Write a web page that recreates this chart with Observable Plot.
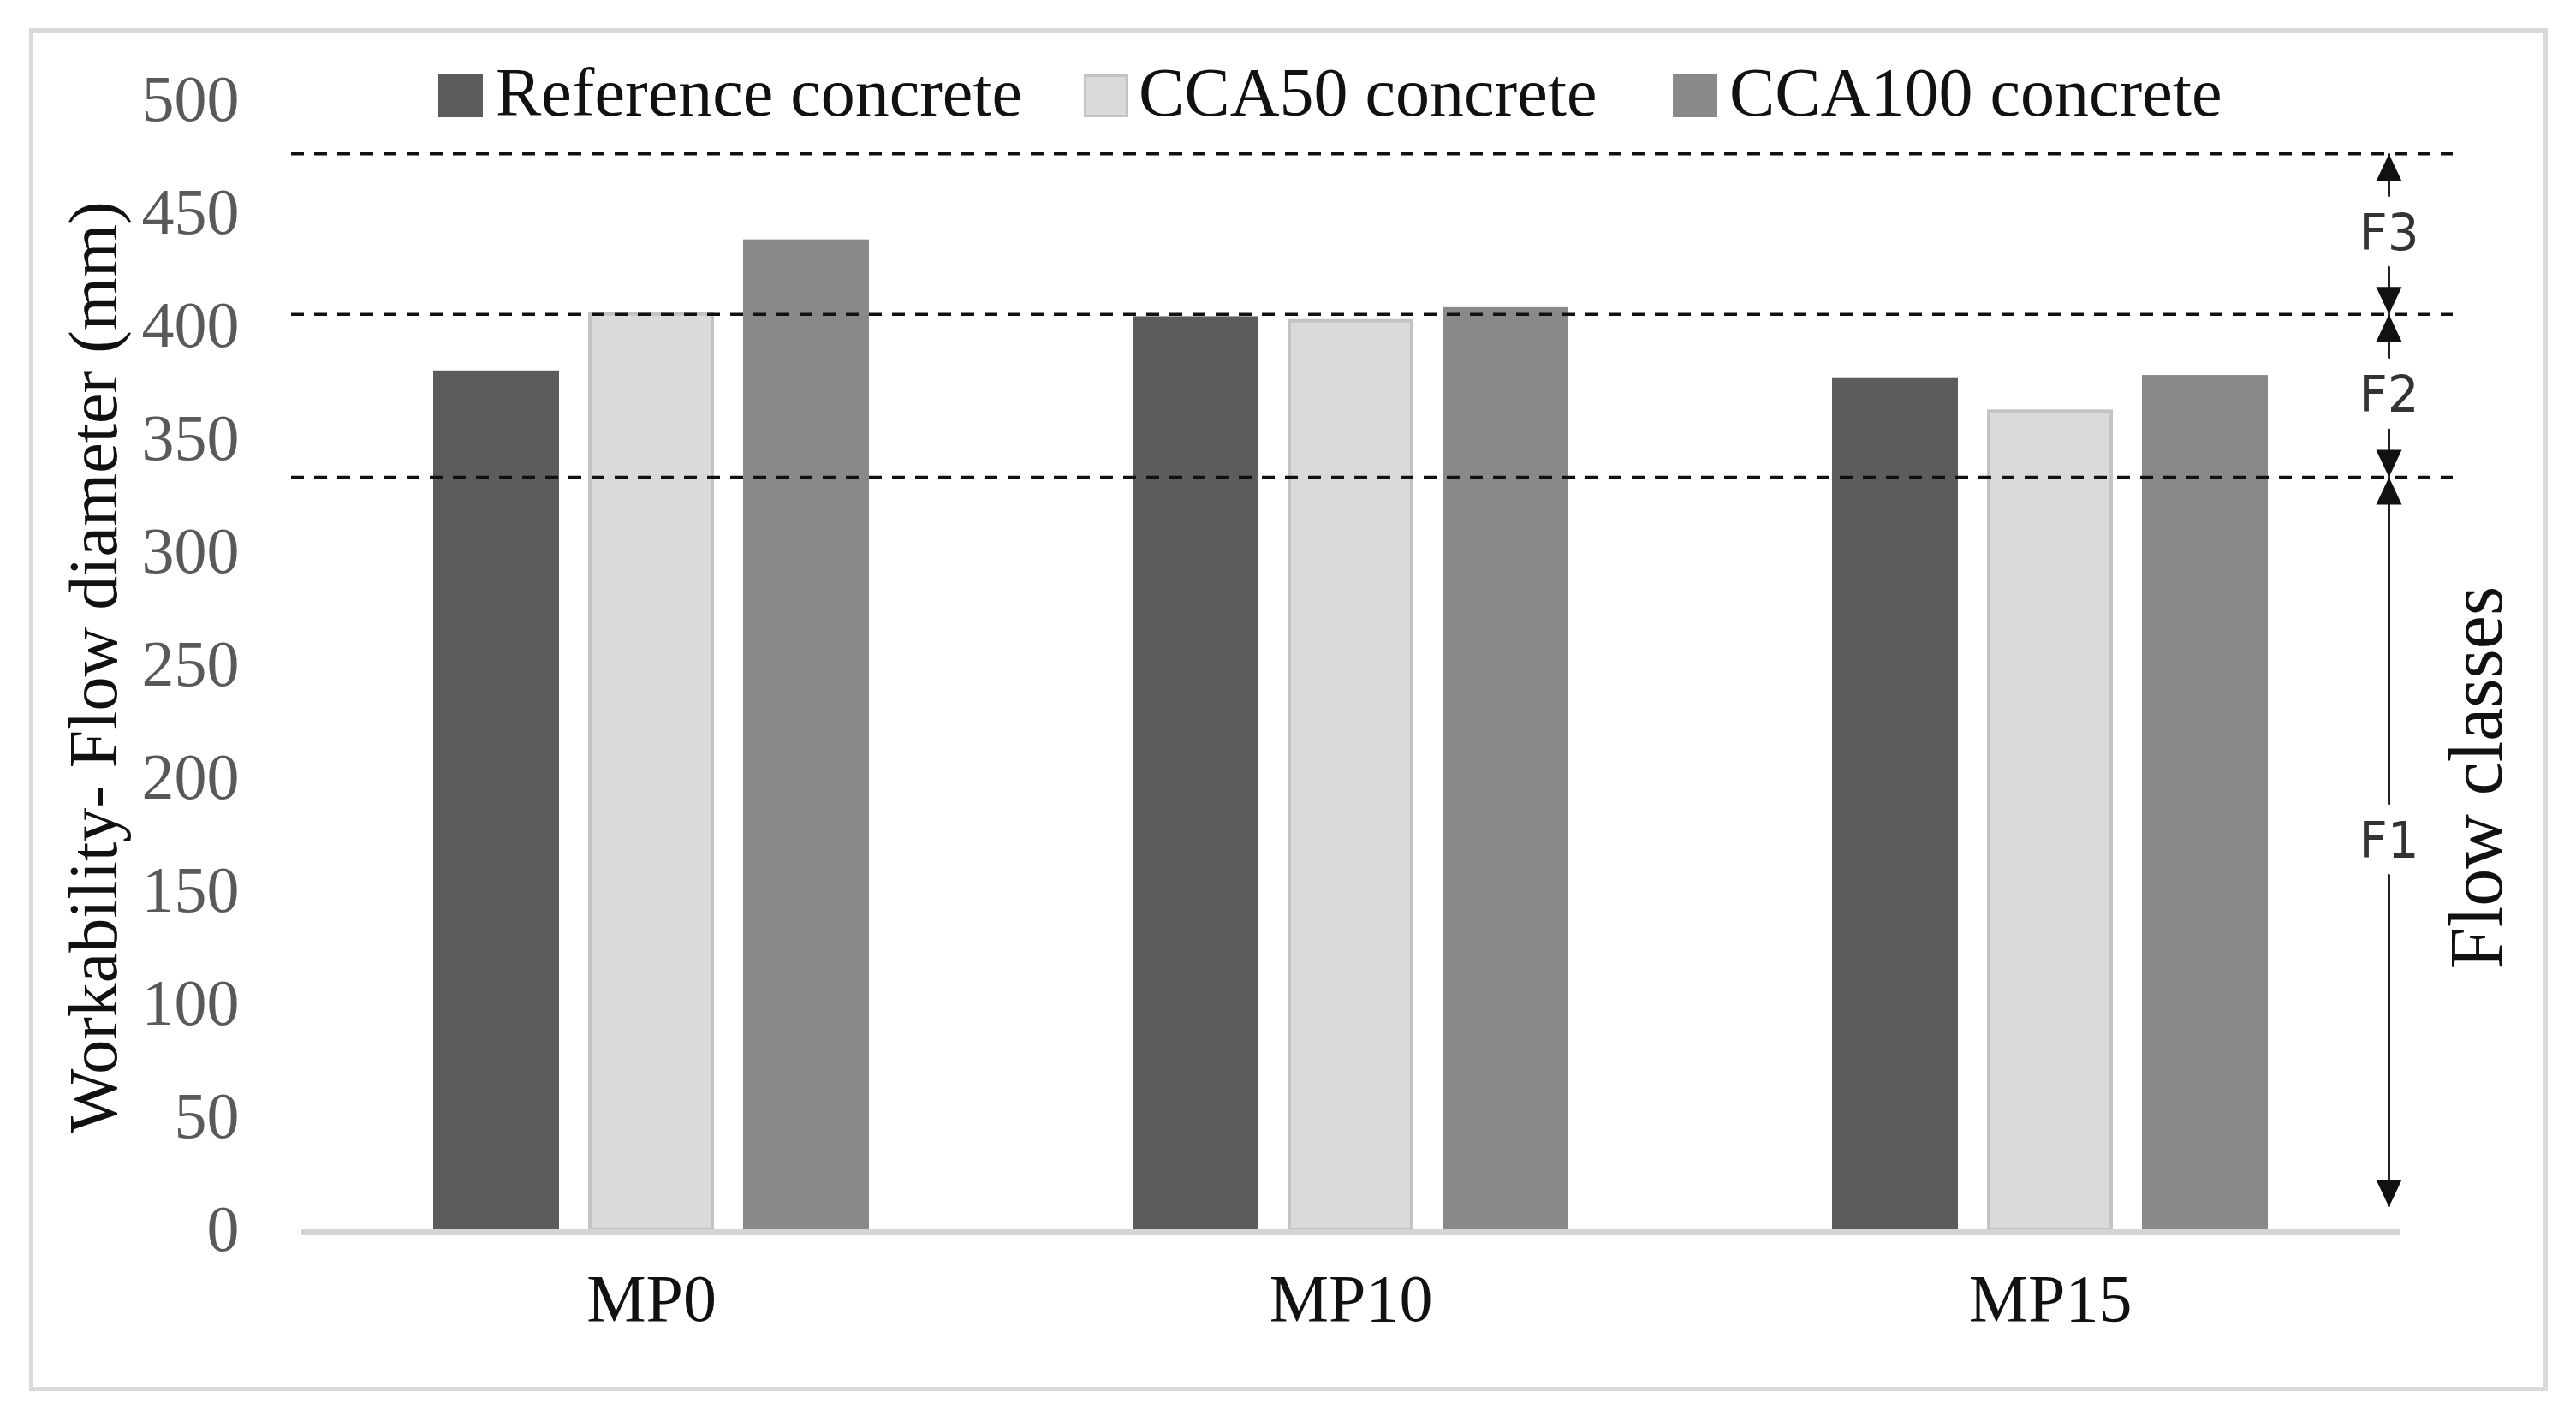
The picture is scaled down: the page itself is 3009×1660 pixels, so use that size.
<!DOCTYPE html>
<html><head><meta charset="utf-8">
<script src="https://cdn.jsdelivr.net/npm/d3@7"></script>
<script src="https://cdn.jsdelivr.net/npm/@observablehq/plot@0.6"></script>
<style>
html,body{margin:0;padding:0;background:#fff;}
#wrap{position:relative;width:3009px;height:1660px;overflow:hidden;background:#fff;}
#frame{position:absolute;left:34px;top:33px;width:2932px;height:1582px;border:5px solid #dadada;}
#chart{position:absolute;left:0;top:0;}
.sw{position:absolute;top:87px;width:52px;height:50px;box-sizing:border-box;}
.lt{position:absolute;top:68px;font-family:'Liberation Serif',serif;font-size:80px;line-height:80px;color:#111;white-space:nowrap;}
</style></head><body>
<div id="wrap"><div id="frame"></div><div id="chart"></div><div id="legend"></div></div>
<script>
// ---- data ----
const groups = ["MP0", "MP10", "MP15"];
const series = ["Reference concrete", "CCA50 concrete", "CCA100 concrete"];
const referenceValues = [380, 404, 377];
const cca50Values = [405, 402, 362];
const cca100Values = [438, 408, 378];
const yTicks = [0, 50, 100, 150, 200, 250, 300, 350, 400, 450, 500];
const flowBoundaries = [333, 405, 476];
const classNames = ["F1", "F2", "F3"];
const classLow = [10, 333, 405];
const classHigh = [333, 405, 476];
const yTitle = "Workability- Flow diameter (mm)";
const rightTitle = "Flow classes";

// ---- styles ----
const seriesFill = ["#5c5c5c", "#dadada", "#898989"];
const seriesStroke = ["none", "#c3c3c3", "none"];
const serif = "'Liberation Serif', serif";
const sans = "'DejaVu Sans', sans-serif";

const valuesBySeries = [referenceValues, cca50Values, cca100Values];
const rows = [];
series.forEach((s, k) => groups.forEach((g, i) => rows.push({group: g, series: s, k, value: valuesBySeries[k][i]})));
const classes = classNames.map((name, i) => ({name, low: classLow[i], high: classHigh[i], mid: (classLow[i] + classHigh[i]) / 2}));
const heads = classes.flatMap(c => [{y: c.high, dir: "up"}, {y: c.low, dir: "down"}]);

const arrowUp = {draw(ctx) { ctx.moveTo(0, 0); ctx.lineTo(15, 32); ctx.lineTo(-15, 32); ctx.closePath(); }};
const arrowDown = {draw(ctx) { ctx.moveTo(0, 0); ctx.lineTo(15, -32); ctx.lineTo(-15, -32); ctx.closePath(); }};

const W = 3009, H = 1660, ML = 352, MR = 206, MT = 116, MB = 224;
const frameCenterX = (ML + W - MR) / 2;
const arrowX = 2790;

const marks = [];
series.forEach((s, k) => {
  marks.push(Plot.barY(rows.filter(r => r.k === k), {
    x: "group", y: "value", fill: seriesFill[k], stroke: seriesStroke[k], strokeWidth: 4,
    insetLeft: k === 1 ? 337 : 335, insetRight: k === 1 ? 337 : 335, dx: (k - 1) * 181
  }));
});
marks.push(Plot.ruleY([0], {stroke: "#d4d4d4", strokeWidth: 7, dy: 3}));
marks.push(Plot.ruleY(flowBoundaries, {stroke: "#111", strokeWidth: 3.5, strokeDasharray: "15,12", insetLeft: -12, insetRight: -62}));
// y tick labels
marks.push(Plot.text(yTicks, {y: d => d, text: d => String(d), frameAnchor: "left", textAnchor: "end", dx: -73, fill: "#595959", fontSize: 76, fontFamily: serif}));
// x labels
marks.push(Plot.text(groups, {x: d => d, text: d => d, frameAnchor: "bottom", textAnchor: "middle", dy: 106, fill: "#111", fontSize: 78, fontFamily: serif}));
// axis titles
marks.push(Plot.text([yTitle], {text: d => d, frameAnchor: "left", textAnchor: "middle", dx: -242, dy: 3, rotate: -90, fill: "#111", fontSize: 80, fontFamily: serif}));
marks.push(Plot.text([rightTitle], {text: d => d, frameAnchor: "right", textAnchor: "middle", dx: 90, dy: 132, rotate: -90, fill: "#111", fontSize: 88, fontFamily: serif}));
// flow class arrows
marks.push(Plot.ruleX(classes, {x: null, y1: "low", y2: "high", dx: arrowX - frameCenterX, stroke: "#222", strokeWidth: 3}));
marks.push(Plot.text(classes, {y: "mid", text: "name", frameAnchor: "right", textAnchor: "middle", dx: arrowX - (W - MR), fill: "#333", stroke: "white", strokeWidth: 40, paintOrder: "stroke", fontSize: 58, fontFamily: sans}));
marks.push(Plot.dot(heads.filter(h => h.dir === "up"), {y: "y", frameAnchor: "right", dx: arrowX - (W - MR), symbol: arrowUp, fill: "#111", stroke: "none"}));
marks.push(Plot.dot(heads.filter(h => h.dir === "down"), {y: "y", frameAnchor: "right", dx: arrowX - (W - MR), symbol: arrowDown, fill: "#111", stroke: "none"}));

const chart = Plot.plot({
  width: W, height: H,
  marginLeft: ML, marginRight: MR, marginTop: MT, marginBottom: MB,
  style: {background: "transparent", overflow: "visible", fontFamily: serif},
  x: {type: "band", domain: groups, padding: 0, axis: null},
  y: {domain: [0, 500], axis: null},
  marks
});
document.getElementById("chart").appendChild(chart);

// legend
const legendSwatchLeft = [512, 1266, 1954];
const legendTextLeft = [579, 1330, 2020];
const legend = document.getElementById("legend");
series.forEach((s, k) => {
  const sw = document.createElement("div");
  sw.className = "sw";
  sw.style.left = legendSwatchLeft[k] + "px";
  sw.style.background = seriesFill[k];
  if (seriesStroke[k] !== "none") sw.style.border = "3px solid " + seriesStroke[k];
  legend.appendChild(sw);
  const t = document.createElement("div");
  t.className = "lt";
  t.style.left = legendTextLeft[k] + "px";
  t.textContent = s;
  legend.appendChild(t);
});
</script>
</body></html>
